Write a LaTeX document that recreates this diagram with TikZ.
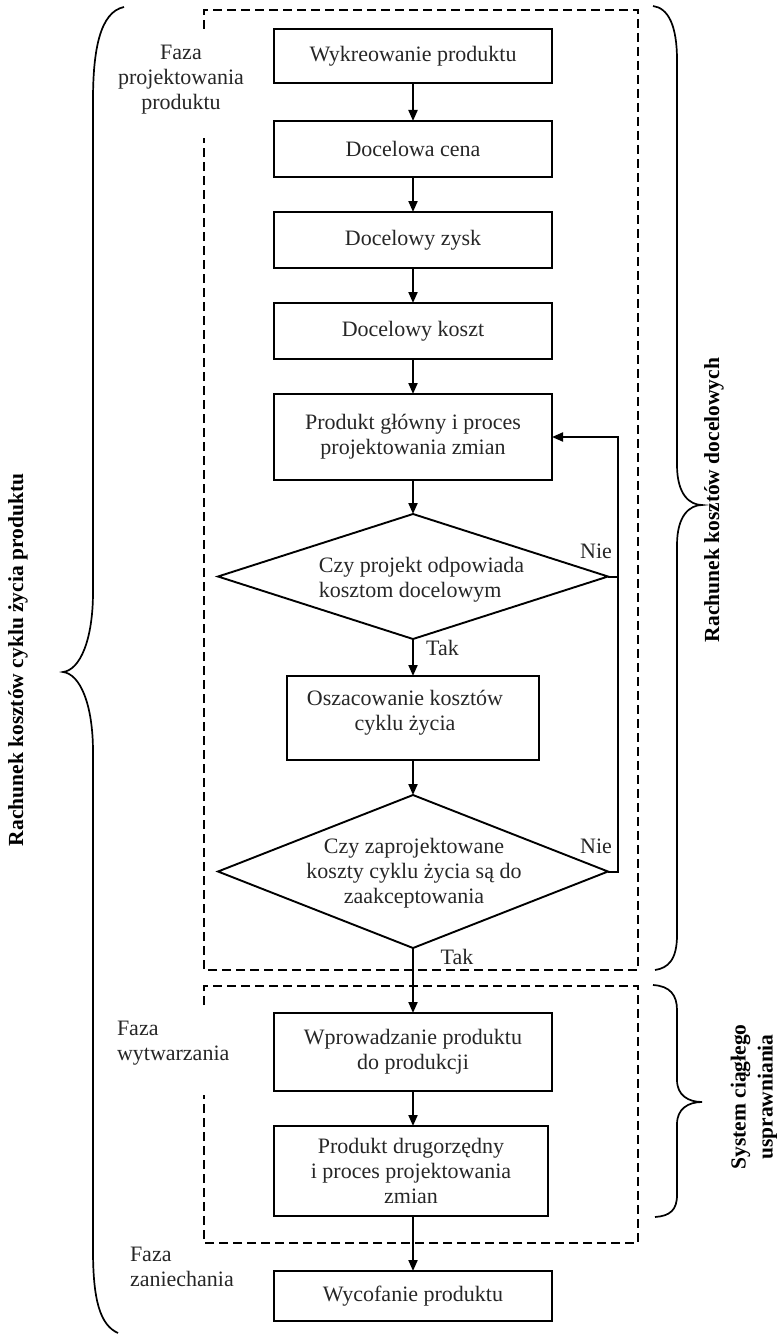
\documentclass[tikz,border=0pt]{standalone}
\usepackage{fontspec}
\setmainfont{Liberation Serif}
\usetikzlibrary{shapes.geometric,arrows.meta}
\begin{document}
\begin{tikzpicture}[x=1pt,y=-1pt,
  every node/.style={inner sep=0pt,outer sep=0pt},
  txt/.style={font=\fontsize{22}{25}\selectfont,align=center,text=black!85},
  lbl/.style={font=\fontsize{22}{25}\selectfont,text=black!85},
  side/.style={font=\bfseries\fontsize{21.5}{27}\selectfont,align=center,rotate=90},
  boxn/.style={draw,line width=2pt,minimum width=#1,txt},
  boxn/.default=278pt,
  dia/.style={draw,diamond,line width=1.9pt},
  arr/.style={line width=2pt,-{Triangle[length=11pt,width=9pt]}},
  ln/.style={line width=2pt},
  dashbox/.style={line width=1.8pt,dash pattern=on 9pt off 5pt},
  brc/.style={line width=1.7pt}
]
\useasboundingbox (0,0) rectangle (776,1335);

% dashed regions
\draw[dashbox] (204,29) -- (204,10) -- (638,10) -- (638,970) -- (204,970) -- (204,138);
\draw[dashbox] (204,1005) -- (204,986) -- (638,986) -- (638,1243) -- (204,1243) -- (204,1095);

% boxes
\node[boxn,minimum height=54pt] (b1) at (413,56) {Wykreowanie produktu};
\node[boxn,minimum height=56pt] (b2) at (413,149) {Docelowa cena};
\node[boxn,minimum height=56pt] (b3) at (413,240) {Docelowy zysk};
\node[boxn,minimum height=56pt] (b4) at (413,331) {Docelowy koszt};
\node[boxn,minimum height=86pt] (b5) at (413,437) {Produkt główny i proces\\projektowania zmian};
\node[dia,minimum width=390pt,minimum height=125pt] (d1) at (413,576.5) {};
\node[txt,align=left] (t1) at (421.5,580) {Czy projekt odpowiada\\kosztom docelowym};
\node[boxn=252pt,minimum height=84pt] (b6) at (413,718) {};
\node[txt] (t6) at (405,713) {Oszacowanie kosztów\\cyklu życia};
\node[dia,minimum width=390pt,minimum height=153pt] (d2) at (413,871.5) {};
\node[txt] (t2) at (414,873.5) {Czy zaprojektowane\\koszty cyklu życia są do\\zaakceptowania};
\node[boxn,minimum height=78pt] (b7) at (413,1052) {Wprowadzanie produktu\\do produkcji};
\node[boxn=274pt,minimum height=90pt] (b8) at (411,1171) {Produkt drugorzędny\\i proces projektowania\\zmian};
\node[boxn,minimum height=50pt] (b9) at (413,1296) {Wycofanie produktu};

% connectors
\draw[arr] (b1.south) -- (b2.north);
\draw[arr] (b2.south) -- (b3.north);
\draw[arr] (b3.south) -- (b4.north);
\draw[arr] (b4.south) -- (b5.north);
\draw[arr] (b5.south) -- (d1.north);
\draw[arr] (d1.south) -- (b6.north);
\draw[arr] (b6.south) -- (d2.north);
\draw[arr] (d2.south) -- (b7.north);
\draw[arr] (b7.south) -- (b7.south |- b8.north);
\draw[arr] (b8.south -| b7.south) -- (b9.north);
\draw[arr] (d2.east) -- ++(10,0) |- (b5.east);
\draw[ln] (d1.east) -- ++(10,0);

% decision labels
\node[lbl,anchor=base] (n1) at (596,558) {Nie};
\node[lbl,anchor=base] (n2) at (596,853) {Nie};
\node[lbl,anchor=base] (y1) at (442.5,655) {Tak};
\node[lbl,anchor=base] (y2) at (457,964) {Tak};

% phase labels
\node[txt,anchor=north] (f1) at (181,45.5) {Faza\\projektowania\\produktu};
\node[txt,align=left,anchor=north west] (f2) at (117,1021.5) {Faza\\wytwarzania};
\node[txt,align=left,anchor=north west] (f3) at (130,1247.5) {Faza\\zaniechania};

% braces
\draw[brc] (124,7) .. controls (100,12) and (93,50) .. (93,100) -- (93,592)
  .. controls (93,640) and (80,670) .. (63,672)
  .. controls (80,674) and (93,704) .. (93,752) -- (93,1250)
  .. controls (93,1300) and (100,1325) .. (118,1333);
\draw[brc] (653,6) .. controls (668,8) and (677,25) .. (677,60) -- (677,465)
  .. controls (677,495) and (690,505) .. (702,505)
  .. controls (690,505) and (677,515) .. (677,545) -- (677,935)
  .. controls (677,960) and (668,968) .. (655,970);
\draw[brc] (653,985) .. controls (670,986) and (677,995) .. (677,1010) -- (677,1080)
  .. controls (677,1095) and (688,1102) .. (702,1102)
  .. controls (688,1102) and (677,1109) .. (677,1124) -- (677,1195)
  .. controls (677,1210) and (670,1216) .. (655,1217);

\node[side] (s1) at (18,660) {Rachunek kosztów cyklu życia produktu};
\node[side] (s2) at (714,500) {Rachunek kosztów docelowych};
\node[side] (s3) at (754,1097) {System ciągłego\\usprawniania};
\end{tikzpicture}
\end{document}
